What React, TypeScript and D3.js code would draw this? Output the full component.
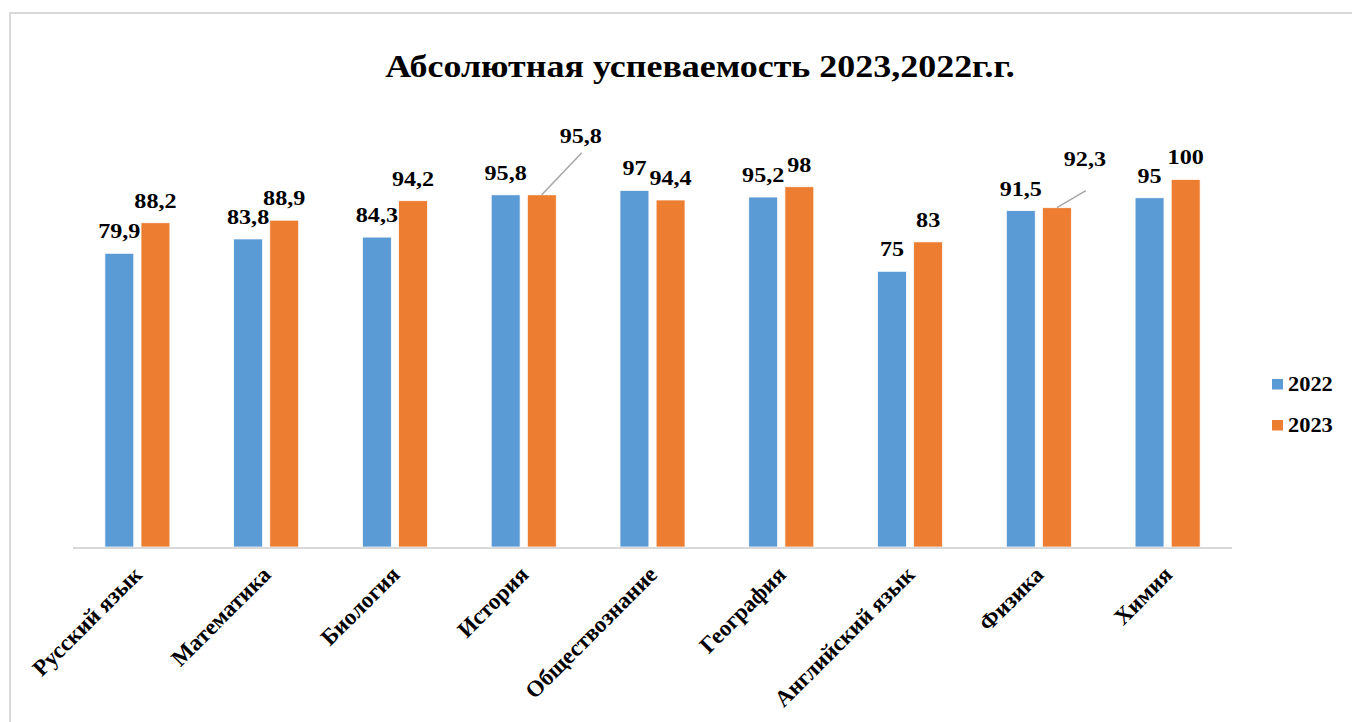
import React from "react";
import * as d3 from "d3";

const title = "Абсолютная успеваемость 2023,2022г.г.";
const categories = [
  "Русский язык",
  "Математика",
  "Биология",
  "История",
  "Обществознание",
  "География",
  "Английский язык",
  "Физика",
  "Химия",
];
const seriesNames = ["2022", "2023"];
const values2022 = [79.9, 83.8, 84.3, 95.8, 97, 95.2, 75, 91.5, 95];
const values2023 = [88.2, 88.9, 94.2, 95.8, 94.4, 98, 83, 92.3, 100];
const colors = ["#5b9bd5", "#ed7d31"];

// manual label placements (layout only): [seriesIndex, categoryIndex, dx, dy, lineDx, lineDy]
const labelNudges: [number, number, number, number, number, number][] = [
  [1, 3, 39, -37, 40, -42],
  [1, 7, 28, -27, 29, -17],
];

const W = 1352;
const H = 722;
const plotLeft = 73;
const plotRight = 1232;
const baseY = 547;
const FONT = "'Liberation Serif', 'Times New Roman', serif";
const SX = 1.15;

const fmt = (v: number) => String(v).replace(".", ",");

const tStyle: React.CSSProperties = { fontFamily: FONT, fontWeight: 700 };

export default function App() {
  const x0 = d3.scaleBand<string>().domain(categories).range([plotLeft, plotRight]).paddingInner(0).paddingOuter(0);
  const groupW = x0.bandwidth() * 0.505;
  const x1 = d3.scaleBand<string>().domain(seriesNames).range([0, groupW]).paddingInner(0.2).paddingOuter(0);
  const y = d3.scaleLinear().domain([0, 100]).range([baseY, 179.4]);
  const series = [values2022, values2023];

  const barX = (ci: number, si: number) =>
    (x0(categories[ci]) as number) + (x0.bandwidth() - groupW) / 2 + (x1(seriesNames[si]) as number);

  return (
    <svg
      width={W}
      height={H}
      style={{ position: "absolute", left: 0, top: 0, background: "#fff" }}
    >
      <rect x={0} y={0} width={W} height={H} fill="#fff" />
      <rect x={10} y={13} width={W + 50} height={H + 50} fill="none" stroke="#d9d9d9" strokeWidth={2} />
      <text transform={`translate(700,77) scale(1.16,1)`} textAnchor="middle" fontSize={31} style={tStyle} fill="#000">
        {title}
      </text>

      {series.map((vals, si) =>
        vals.map((v, ci) => (
          <rect
            key={`b${si}-${ci}`}
            x={barX(ci, si)}
            y={y(v)}
            width={x1.bandwidth()}
            height={baseY - y(v)}
            fill={colors[si]}
            stroke="#fff"
            strokeWidth={0.75}
          />
        ))
      )}

      <line x1={plotLeft} x2={plotRight} y1={baseY + 1} y2={baseY + 1} stroke="#d9d9d9" strokeWidth={2} />

      {series.map((vals, si) =>
        vals.map((v, ci) => {
          const cx = barX(ci, si) + x1.bandwidth() / 2;
          const top = y(v);
          const nudge = labelNudges.find((n) => n[0] === si && n[1] === ci);
          const dx = nudge ? nudge[2] : 0;
          const dy = nudge ? nudge[3] : 0;
          return (
            <g key={`l${si}-${ci}`}>
              {nudge && (
                <line
                  x1={cx}
                  y1={top}
                  x2={cx + nudge[4]}
                  y2={top + nudge[5]}
                  stroke="#a6a6a6"
                  strokeWidth={1.5}
                />
              )}
              <text
                transform={`translate(${cx + dx},${top - 15 + dy}) scale(${SX},1)`}
                textAnchor="middle"
                fontSize={21}
                style={tStyle}
                fill="#000"
              >
                {fmt(v)}
              </text>
            </g>
          );
        })
      )}

      {categories.map((c, ci) => {
        const cx = (x0(c) as number) + x0.bandwidth() / 2;
        return (
          <text
            key={`c${ci}`}
            transform={`translate(${cx + 6},${576}) rotate(-45)`}
            textAnchor="end"
            fontSize={23}
            style={tStyle}
            fill="#000"
          >
            {c}
          </text>
        );
      })}

      {seriesNames.map((s, si) => (
        <g key={`lg${si}`} transform={`translate(1272,${379 + si * 41})`}>
          <rect x={0} y={0} width={11} height={10.5} fill={colors[si]} />
          <text transform={`translate(16,11.5) scale(1.12,1)`} fontSize={20} style={tStyle} fill="#000">
            {s}
          </text>
        </g>
      ))}
    </svg>
  );
}
